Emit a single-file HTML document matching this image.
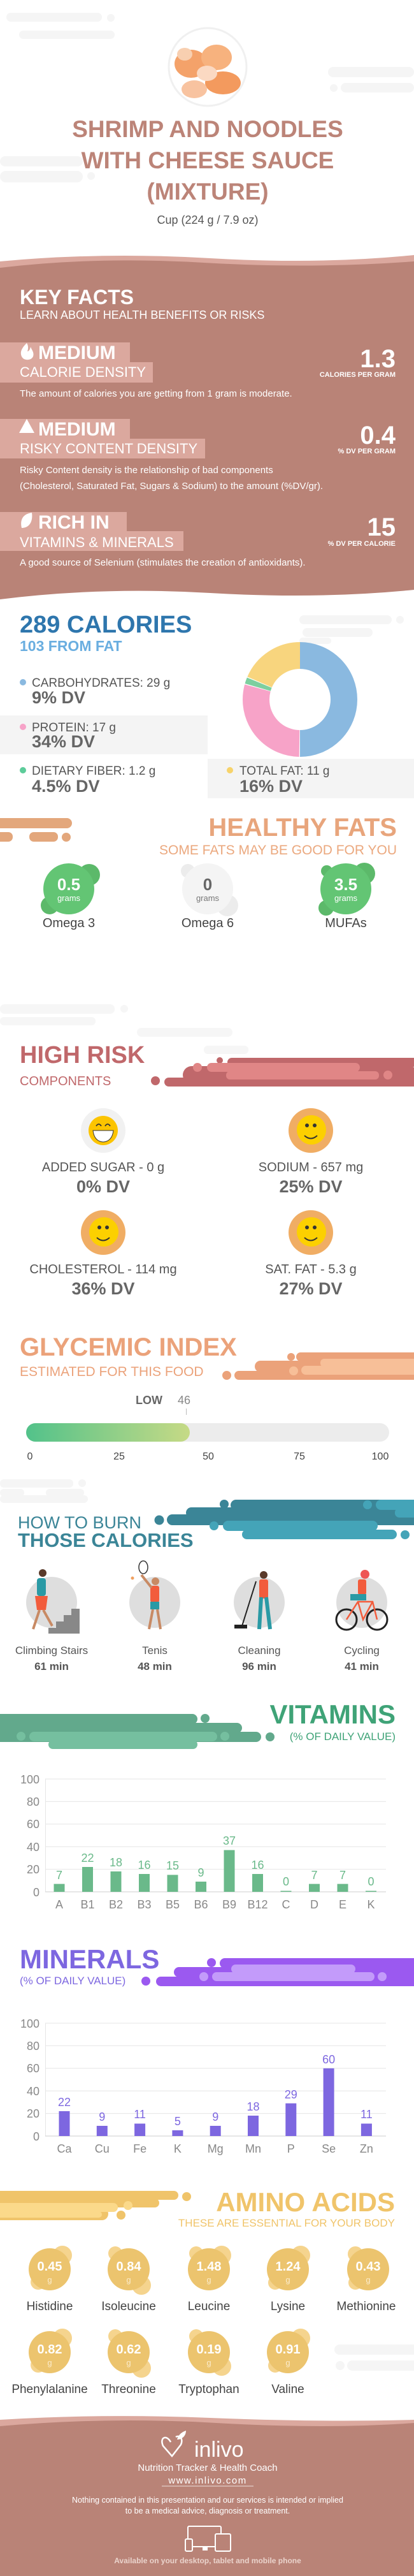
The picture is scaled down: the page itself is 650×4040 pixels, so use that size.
<!DOCTYPE html>
<html><head><meta charset="utf-8"><style>
html,body{margin:0;padding:0;background:#fff}
svg{display:block}
text{font-family:"Liberation Sans",Arial,sans-serif}
.b{font-weight:bold}
</style></head><body>
<svg width="650" height="4040" viewBox="0 0 650 4040" xmlns="http://www.w3.org/2000/svg">
<rect width="650" height="4040" fill="#fff"/>
<!-- header decorations -->
<g fill="#f5f5f5">
<rect x="10" y="20" width="150" height="14" rx="7"/><circle cx="174" cy="28" r="6"/>
<rect x="30" y="48" width="150" height="13" rx="6.5"/>
<rect x="515" y="105" width="135" height="16" rx="8"/><rect x="535" y="130" width="115" height="15" rx="7.5"/><circle cx="524" cy="138" r="6"/>
<rect x="0" y="245" width="130" height="16" rx="8"/><rect x="0" y="268" width="130" height="18" rx="9"/><circle cx="143" cy="276" r="6"/>
</g>
<!-- shrimp -->
<circle cx="326" cy="105" r="61" fill="#fff" stroke="#f0f0f0" stroke-width="3"/>
<g>
<ellipse cx="300" cy="100" rx="26" ry="22" fill="#f4a26a"/>
<ellipse cx="340" cy="90" rx="24" ry="20" fill="#f7b27e"/>
<ellipse cx="350" cy="130" rx="28" ry="18" fill="#f39a5e"/>
<ellipse cx="305" cy="140" rx="20" ry="14" fill="#f8c3a0"/>
<ellipse cx="325" cy="115" rx="16" ry="12" fill="#fbd9c2"/>
<ellipse cx="290" cy="85" rx="12" ry="10" fill="#f8cfb0"/>
</g>
<g fill="#bc8478" class="b" text-anchor="middle" font-size="37">
<text x="326" y="215">SHRIMP AND NOODLES</text>
<text x="326" y="264">WITH CHEESE SAUCE</text>
<text x="326" y="313">(MIXTURE)</text>
</g>
<text x="326" y="351" text-anchor="middle" font-size="18" fill="#555">Cup (224 g / 7.9 oz)</text>
<!-- key facts -->
<path d="M0 410 Q160 395 330 405 T650 400 V940 H0Z" fill="#dba89e"/>
<path d="M0 420 Q150 402 320 412 T650 410 V940 H0Z" fill="#b98377"/>
<path d="M0 940 Q160 920 330 930 T650 925 V945 H0Z" fill="#fff"/>
<text x="31" y="477" class="b" font-size="32" fill="#fff">KEY FACTS</text>
<text x="31" y="500" font-size="18" fill="#fff">LEARN ABOUT HEALTH BENEFITS OR RISKS</text>
<g fill="#dba89e">
<rect x="0" y="537" width="204" height="32"/><rect x="0" y="568" width="240" height="32"/>
<rect x="0" y="657" width="204" height="32"/><rect x="0" y="688" width="322" height="31"/>
<rect x="0" y="803" width="199" height="31"/><rect x="0" y="833" width="288" height="31"/>
</g>
<g fill="#fff">
<path d="M42 538 C34 546 31 552 34 559 C37 566 49 566 52 559 C54 553 50 549 48 544 C47 549 45 551 43 551 C45 546 44 541 42 538Z"/>
<path d="M42 657 L54 679 L30 679Z"/>
<path d="M50 804 C36 806 31 815 34 828 C46 828 52 818 50 804Z"/>
</g>
<g fill="#fff" font-size="30" class="b">
<text x="60" y="563">MEDIUM</text><text x="60" y="683">MEDIUM</text><text x="60" y="829">RICH  IN</text>
</g>
<g fill="#fff" font-size="22">
<text x="31" y="591">CALORIE DENSITY</text><text x="31" y="711">RISKY CONTENT DENSITY</text><text x="31" y="858">VITAMINS &amp; MINERALS</text>
</g>
<g fill="#fff" class="b" text-anchor="end">
<text x="621" y="576" font-size="40">1.3</text><text x="621" y="591" font-size="11">CALORIES PER GRAM</text>
<text x="621" y="696" font-size="40">0.4</text><text x="621" y="711" font-size="11">% DV PER GRAM</text>
<text x="621" y="840" font-size="40">15</text><text x="621" y="856" font-size="11">% DV PER CALORIE</text>
</g>
<g fill="#fff" font-size="15">
<text x="31" y="622">The amount of calories you are getting from 1 gram is moderate.</text>
<text x="31" y="742">Risky Content density is the relationship of bad components</text>
<text x="31" y="767">(Cholesterol, Saturated Fat, Sugars &amp; Sodium) to the amount (%DV/gr).</text>
<text x="31" y="887">A good source of Selenium (stimulates the creation of antioxidants).</text>
</g>
<!-- calories -->
<g fill="#f5f5f5"><rect x="470" y="965" width="145" height="14" rx="7"/><rect x="475" y="985" width="110" height="14" rx="7"/><circle cx="628" cy="972" r="6"/><rect x="470" y="1000" width="50" height="10" rx="5"/></g>
<text x="31" y="992" class="b" font-size="38" fill="#2e76ad">289 CALORIES</text>
<text x="31" y="1021" class="b" font-size="23" fill="#6aaee0">103 FROM FAT</text>
<rect x="0" y="1122" width="326" height="61" fill="#f4f4f4"/>
<rect x="326" y="1190" width="324" height="62" fill="#f4f4f4"/>
<circle cx="36" cy="1102" r="0" fill="none"/>
<circle cx="36" cy="1070" r="5" fill="#8ab9e0"/><circle cx="36" cy="1140" r="5" fill="#f7a3c8"/><circle cx="36" cy="1208" r="5" fill="#5dcc9a"/><circle cx="361" cy="1208" r="5" fill="#f7d36a"/>
<g font-size="19" fill="#555">
<text x="50" y="1077">CARBOHYDRATES: 29 g</text><text x="50" y="1147">PROTEIN: 17 g</text><text x="50" y="1215">DIETARY FIBER: 1.2 g</text><text x="376" y="1215">TOTAL FAT: 11 g</text>
</g>
<g font-size="27" class="b" fill="#666">
<text x="50" y="1103">9% DV</text><text x="50" y="1172">34% DV</text><text x="50" y="1242">4.5% DV</text><text x="376" y="1242">16% DV</text>
</g>
<g transform="translate(471,1097) rotate(-90)" fill="none" stroke-width="42">
<circle r="69" stroke="#8ab9e0" stroke-dasharray="216.7 433.5"/>
<circle r="69" stroke="#f7a3c8" stroke-dasharray="125.7 433.5" stroke-dashoffset="-217.7"/>
<circle r="69" stroke="#7dcf9f" stroke-dasharray="7.7 433.5" stroke-dashoffset="-344.4"/>
<circle r="69" stroke="#f8d57e" stroke-dasharray="80.4 433.5" stroke-dashoffset="-353.1"/>
</g>
<!-- healthy fats -->
<g fill="#e3a77c"><rect x="-10" y="1283" width="123" height="16" rx="8"/><rect x="-10" y="1305" width="30" height="15" rx="7"/><rect x="46" y="1305" width="45" height="15" rx="7"/><circle cx="104" cy="1313" r="7"/></g>
<text x="623" y="1311" text-anchor="end" class="b" font-size="40" fill="#e8a57c">HEALTHY FATS</text>
<text x="623" y="1340" text-anchor="end" font-size="21" fill="#eba87e">SOME FATS MAY BE GOOD FOR YOU</text>
<g>
<circle cx="140" cy="1372" r="17" fill="#5cb96a"/><circle cx="78" cy="1420" r="14" fill="#5cb96a"/><circle cx="108" cy="1394" r="40" fill="#63c574"/>
<circle cx="295" cy="1366" r="11" fill="#ececec"/><circle cx="357" cy="1420" r="17" fill="#ececec"/><circle cx="326" cy="1394" r="40" fill="#f4f4f4"/>
<circle cx="572" cy="1370" r="17" fill="#5cb96a"/><circle cx="512" cy="1424" r="12" fill="#5cb96a"/><circle cx="513" cy="1366" r="9" fill="#5cb96a"/><circle cx="543" cy="1394" r="40" fill="#63c574"/>
</g>
<g text-anchor="middle">
<text x="108" y="1396" class="b" font-size="26" fill="#fff">0.5</text><text x="108" y="1413" font-size="13" fill="#fff">grams</text>
<text x="326" y="1396" class="b" font-size="26" fill="#666">0</text><text x="326" y="1413" font-size="13" fill="#777">grams</text>
<text x="543" y="1396" class="b" font-size="26" fill="#fff">3.5</text><text x="543" y="1413" font-size="13" fill="#fff">grams</text>
<g font-size="20" fill="#444"><text x="108" y="1454">Omega 3</text><text x="326" y="1454">Omega 6</text><text x="543" y="1454">MUFAs</text></g>
</g>
<!-- high risk -->
<g fill="#f6f6f6"><rect x="0" y="1575" width="180" height="15" rx="7"/><circle cx="195" cy="1582" r="6"/><rect x="0" y="1595" width="150" height="13" rx="6"/><rect x="215" y="1612" width="150" height="14" rx="7"/><rect x="320" y="1640" width="70" height="13" rx="6"/></g>
<text x="31" y="1667" class="b" font-size="38" fill="#c0686b">HIGH RISK</text>
<text x="31" y="1702" font-size="20" fill="#c0686b">COMPONENTS</text>
<g fill="#c0686b"><rect x="357" y="1659" width="300" height="14" rx="7"/><rect x="287" y="1672" width="370" height="28" rx="14"/><rect x="258" y="1690" width="400" height="14" rx="7"/><circle cx="244" cy="1695" r="7"/><circle cx="345" cy="1663" r="5"/></g>
<g fill="#e08686"><rect x="325" y="1667" width="240" height="14" rx="7"/><rect x="355" y="1680" width="240" height="13" rx="6"/><circle cx="310" cy="1674" r="7"/><circle cx="609" cy="1686" r="7"/></g>
<defs>
<g id="smile"><ellipse cx="0" cy="0" rx="35" ry="35" fill="#f0ad64"/><circle cx="1" cy="-1" r="23" fill="#fcd000"/><circle cx="-6" cy="-8" r="3" fill="#333"/><circle cx="6" cy="-8" r="3" fill="#333"/><path d="M-10 8 Q0 17 10 8" fill="none" stroke="#333" stroke-width="2"/></g>
</defs>
<ellipse cx="162" cy="1773" rx="35" ry="35" fill="#f1f1f1"/><circle cx="162" cy="1773" r="23" fill="#fcc400"/>
<path d="M151 1766 q4 -6 8 0 M165 1766 q4 -6 8 0" fill="none" stroke="#333" stroke-width="1.8"/>
<path d="M146 1773 H178 Q176 1790 162 1791 Q148 1790 146 1773Z" fill="#fff" stroke="#333" stroke-width="1"/>
<use href="#smile" x="488" y="1773"/><use href="#smile" x="162" y="1933"/><use href="#smile" x="488" y="1933"/>
<g text-anchor="middle">
<g font-size="20" fill="#555"><text x="162" y="1837">ADDED SUGAR - 0 g</text><text x="488" y="1837">SODIUM - 657 mg</text><text x="162" y="1997">CHOLESTEROL - 114 mg</text><text x="488" y="1997">SAT. FAT - 5.3 g</text></g>
<g font-size="27" class="b" fill="#666"><text x="162" y="1870">0% DV</text><text x="488" y="1870">25% DV</text><text x="162" y="2030">36% DV</text><text x="488" y="2030">27% DV</text></g>
</g>
<!-- glycemic -->
<text x="31" y="2126" class="b" font-size="40" fill="#eba27a">GLYCEMIC INDEX</text>
<text x="31" y="2158" font-size="21" fill="#eba27a">ESTIMATED FOR THIS FOOD</text>
<g fill="#eba27a"><rect x="465" y="2121" width="200" height="14" rx="7"/><rect x="400" y="2134" width="260" height="18" rx="9"/><rect x="368" y="2150" width="290" height="14" rx="7"/><circle cx="356" cy="2157" r="7"/><circle cx="457" cy="2128" r="6"/><circle cx="459" cy="2140" r="5"/></g>
<g fill="#f7bf98"><rect x="503" y="2131" width="160" height="13" rx="6"/><rect x="473" y="2142" width="190" height="14" rx="7"/><circle cx="461" cy="2150" r="7"/></g>
<text x="213" y="2202" class="b" font-size="18" fill="#666">LOW</text><text x="279" y="2202" font-size="18" fill="#888">46</text>
<rect x="292" y="2209" width="1" height="10" fill="#bbb"/>
<defs><linearGradient id="gg" x1="0" x2="1"><stop offset="0" stop-color="#52c28a"/><stop offset="1" stop-color="#c6da86"/></linearGradient></defs>
<rect x="41" y="2232" width="570" height="29" rx="14.5" fill="#ececec"/>
<rect x="41" y="2232" width="257" height="29" rx="14.5" fill="url(#gg)"/>
<g font-size="16" fill="#444" text-anchor="middle"><text x="47" y="2289">0</text><text x="187" y="2289">25</text><text x="327" y="2289">50</text><text x="470" y="2289">75</text><text x="597" y="2289">100</text></g>
<!-- burn -->
<g fill="#f5f5f5"><rect x="0" y="2320" width="115" height="13" rx="6"/><circle cx="129" cy="2326" r="6"/><rect x="0" y="2335" width="38" height="12" rx="6"/><rect x="72" y="2335" width="60" height="12" rx="6"/><rect x="0" y="2345" width="138" height="12" rx="6"/></g>
<g fill="#3b8597"><rect x="362" y="2352" width="300" height="17" rx="8.5"/><rect x="292" y="2364" width="370" height="17" rx="8.5"/><rect x="262" y="2375" width="400" height="17" rx="8.5"/><circle cx="250" cy="2384" r="7.5"/><circle cx="352" cy="2359" r="7"/></g>
<g fill="#44a4b8"><rect x="350" y="2385" width="243" height="16" rx="8"/><rect x="380" y="2399" width="243" height="15" rx="7.5"/><circle cx="336" cy="2393" r="7"/><circle cx="636" cy="2407" r="7"/><rect x="590" y="2352" width="70" height="16" rx="8"/><circle cx="577" cy="2360" r="7"/><rect x="620" y="2365" width="40" height="15" rx="7"/></g>
<text x="28" y="2397" font-size="27" fill="#3b8597">HOW TO BURN</text>
<text x="28" y="2426" class="b" font-size="31" fill="#3b8597">THOSE CALORIES</text>
<g fill="#dedede"><circle cx="81" cy="2513" r="40"/><circle cx="243" cy="2513" r="40"/><circle cx="407" cy="2513" r="40"/><circle cx="568" cy="2513" r="40"/></g>
<!-- simple figures -->
<g>
<path d="M44 2562 H125 V2523 H112 V2533 H100 V2543 H88 V2553 H76 V2562Z" fill="#888"/>
<circle cx="67" cy="2467" r="6" fill="#5a3a2a"/><rect x="58" y="2475" width="14" height="28" rx="4" fill="#2a9aa5"/><path d="M55 2503 L75 2503 L72 2525 L58 2525Z" fill="#f25c3c"/><path d="M62 2525 L52 2555 M68 2525 L82 2550" stroke="#c88a64" stroke-width="4"/>
<circle cx="244" cy="2480" r="6" fill="#c88a64"/><rect x="236" y="2487" width="14" height="26" rx="3" fill="#f25c3c"/><rect x="236" y="2512" width="14" height="12" fill="#2a9aa5"/><path d="M240 2524 L234 2555 M247 2524 L252 2555 M238 2490 L222 2470" stroke="#c88a64" stroke-width="4"/><ellipse cx="225" cy="2458" rx="7" ry="10" fill="none" stroke="#333" stroke-width="1.5"/><circle cx="208" cy="2475" r="2.5" fill="#f0a060"/>
<circle cx="414" cy="2470" r="6" fill="#5a3a2a"/><rect x="407" y="2477" width="14" height="30" rx="3" fill="#f25c3c"/><path d="M410 2505 L407 2555 M418 2505 L424 2555" stroke="#2a9aa5" stroke-width="6"/><path d="M402 2480 L380 2550" stroke="#222" stroke-width="2"/><rect x="368" y="2548" width="20" height="6" fill="#222"/>
<circle cx="573" cy="2469" r="7" fill="#e55"/><rect x="562" y="2477" width="13" height="24" rx="3" fill="#f25c3c"/><rect x="550" y="2500" width="25" height="10" fill="#2a9aa5"/>
<circle cx="544" cy="2540" r="16" fill="none" stroke="#222" stroke-width="3"/><circle cx="592" cy="2540" r="16" fill="none" stroke="#222" stroke-width="3"/><path d="M544 2540 L562 2512 L585 2512 L592 2540 M562 2512 L570 2540 L585 2512" fill="none" stroke="#f25c3c" stroke-width="2.5"/>
</g>
<g text-anchor="middle" font-size="17" fill="#555">
<text x="81" y="2594">Climbing Stairs</text><text x="243" y="2594">Tenis</text><text x="407" y="2594">Cleaning</text><text x="568" y="2594">Cycling</text>
<g class="b"><text x="81" y="2619">61 min</text><text x="243" y="2619">48 min</text><text x="407" y="2619">96 min</text><text x="568" y="2619">41 min</text></g>
</g>
<!-- vitamins -->
<text x="621" y="2703" text-anchor="end" class="b" font-size="42" fill="#3fa377">VITAMINS</text>
<text x="621" y="2729" text-anchor="end" font-size="17" fill="#3fa377">(% OF DAILY VALUE)</text>
<g fill="#62a98c"><rect x="-10" y="2688" width="320" height="16" rx="8"/><rect x="-10" y="2702" width="390" height="16" rx="8"/><rect x="-10" y="2716" width="420" height="16" rx="8"/><circle cx="322" cy="2695" r="7"/><circle cx="424" cy="2724" r="7"/></g>
<g fill="#75bf9f"><rect x="46" y="2716" width="295" height="15" rx="7.5"/><rect x="76" y="2729" width="234" height="14" rx="7"/><circle cx="33" cy="2723" r="7"/><circle cx="353" cy="2723" r="7"/></g>
<g stroke="#e6e6e6" stroke-width="1"><line x1="71" y1="2790" x2="606" y2="2790"/><line x1="71" y1="2825.4" x2="606" y2="2825.4"/><line x1="71" y1="2860.8" x2="606" y2="2860.8"/><line x1="71" y1="2896.2" x2="606" y2="2896.2"/><line x1="71" y1="2931.6" x2="606" y2="2931.6"/><line x1="71.5" y1="2790" x2="71.5" y2="2967"/></g>
<line x1="71" y1="2967" x2="606" y2="2967" stroke="#ccc"/>
<g font-size="18" fill="#888" text-anchor="end"><text x="62" y="2797">100</text><text x="62" y="2832">80</text><text x="62" y="2867">60</text><text x="62" y="2903">40</text><text x="62" y="2938">20</text><text x="62" y="2974">0</text></g>
<g fill="#6ab98a">
<rect x="84.5" y="2954.6" width="17" height="12.4"/><rect x="129" y="2928" width="17" height="39"/><rect x="173.5" y="2935" width="17" height="32"/><rect x="218" y="2939" width="17" height="28"/><rect x="262.5" y="2940.4" width="17" height="26.6"/><rect x="307" y="2951" width="17" height="16"/><rect x="351.5" y="2901.5" width="17" height="65.5"/><rect x="396" y="2939" width="17" height="28"/><rect x="440.5" y="2965.5" width="17" height="1.5"/><rect x="485" y="2954.6" width="17" height="12.4"/><rect x="529.5" y="2954.6" width="17" height="12.4"/><rect x="574" y="2965.5" width="17" height="1.5"/>
</g>
<g font-size="18" fill="#6ab98a" text-anchor="middle">
<text x="93" y="2947">7</text><text x="137.5" y="2920">22</text><text x="182" y="2927">18</text><text x="226.5" y="2931">16</text><text x="271" y="2932">15</text><text x="315.5" y="2943">9</text><text x="360" y="2893">37</text><text x="404.5" y="2931">16</text><text x="449" y="2957">0</text><text x="493.5" y="2947">7</text><text x="538" y="2947">7</text><text x="582.5" y="2957">0</text>
</g>
<g font-size="18" fill="#888" text-anchor="middle">
<text x="93" y="2993">A</text><text x="137.5" y="2993">B1</text><text x="182" y="2993">B2</text><text x="226.5" y="2993">B3</text><text x="271" y="2993">B5</text><text x="315.5" y="2993">B6</text><text x="360" y="2993">B9</text><text x="404.5" y="2993">B12</text><text x="449" y="2993">C</text><text x="493.5" y="2993">D</text><text x="538" y="2993">E</text><text x="582.5" y="2993">K</text>
</g>
<!-- minerals -->
<text x="31" y="3087" class="b" font-size="42" fill="#7d67e0">MINERALS</text>
<text x="31" y="3112" font-size="17" fill="#7d67e0">(% OF DAILY VALUE)</text>
<g fill="#9b59f0"><rect x="345" y="3071" width="320" height="16" rx="8"/><rect x="273" y="3085" width="390" height="16" rx="8"/><rect x="245" y="3100" width="420" height="15" rx="7.5"/><circle cx="332" cy="3078" r="7"/><circle cx="229" cy="3107" r="7"/></g>
<g fill="#c39bfa"><rect x="363" y="3081" width="195" height="14" rx="7"/><rect x="333" y="3093" width="255" height="14" rx="7"/><circle cx="320" cy="3100" r="7"/><circle cx="600" cy="3100" r="7"/></g>
<g stroke="#e6e6e6" stroke-width="1"><line x1="71" y1="3173" x2="606" y2="3173"/><line x1="71" y1="3208.4" x2="606" y2="3208.4"/><line x1="71" y1="3243.8" x2="606" y2="3243.8"/><line x1="71" y1="3279.2" x2="606" y2="3279.2"/><line x1="71" y1="3314.6" x2="606" y2="3314.6"/><line x1="71.5" y1="3173" x2="71.5" y2="3350"/></g>
<line x1="71" y1="3350" x2="606" y2="3350" stroke="#ccc"/>
<g font-size="18" fill="#888" text-anchor="end"><text x="62" y="3180">100</text><text x="62" y="3215">80</text><text x="62" y="3250">60</text><text x="62" y="3286">40</text><text x="62" y="3321">20</text><text x="62" y="3357">0</text></g>
<g fill="#7d67e0">
<rect x="92.5" y="3311" width="17" height="39"/><rect x="151.8" y="3334" width="17" height="16"/><rect x="211.1" y="3330.5" width="17" height="19.5"/><rect x="270.4" y="3341" width="17" height="9"/><rect x="329.7" y="3334" width="17" height="16"/><rect x="389" y="3318" width="17" height="32"/><rect x="448.3" y="3298.7" width="17" height="51.3"/><rect x="507.6" y="3243.8" width="17" height="106.2"/><rect x="566.9" y="3330.5" width="17" height="19.5"/>
</g>
<g font-size="18" fill="#7d67e0" text-anchor="middle">
<text x="101" y="3303">22</text><text x="160.3" y="3326">9</text><text x="219.6" y="3322">11</text><text x="278.9" y="3333">5</text><text x="338.2" y="3326">9</text><text x="397.5" y="3310">18</text><text x="456.8" y="3291">29</text><text x="516.1" y="3236">60</text><text x="575.4" y="3322">11</text>
</g>
<g font-size="18" fill="#888" text-anchor="middle">
<text x="101" y="3376">Ca</text><text x="160.3" y="3376">Cu</text><text x="219.6" y="3376">Fe</text><text x="278.9" y="3376">K</text><text x="338.2" y="3376">Mg</text><text x="397.5" y="3376">Mn</text><text x="456.8" y="3376">P</text><text x="516.1" y="3376">Se</text><text x="575.4" y="3376">Zn</text>
</g>
<!-- amino -->
<g fill="#f0c46a"><rect x="-10" y="3436" width="290" height="14" rx="7"/><rect x="-10" y="3448" width="260" height="14" rx="7"/><rect x="-10" y="3462" width="180" height="20" rx="10"/><circle cx="293" cy="3445" r="7"/><circle cx="190" cy="3474" r="7"/></g>
<g fill="#fbd98a"><rect x="-10" y="3455" width="195" height="14" rx="7"/><circle cx="201" cy="3459" r="7"/><rect x="-10" y="3468" width="170" height="10" rx="5"/></g>
<text x="620" y="3468" text-anchor="end" class="b" font-size="42" fill="#f0c46a">AMINO ACIDS</text>
<text x="620" y="3492" text-anchor="end" font-size="17" fill="#f0c46a">THESE ARE ESSENTIAL FOR YOUR BODY</text>
<g fill="#f5d48e">
<circle cx="98" cy="3537" r="15"/><circle cx="60" cy="3579" r="12"/><circle cx="222" cy="3584" r="15"/><circle cx="181" cy="3534" r="11"/><circle cx="348" cy="3537" r="15"/><circle cx="308" cy="3534" r="11"/><circle cx="472" cy="3537" r="15"/><circle cx="432" cy="3580" r="11"/><circle cx="558" cy="3535" r="12"/><circle cx="558" cy="3580" r="11"/>
<circle cx="98" cy="3667" r="15"/><circle cx="60" cy="3709" r="12"/><circle cx="222" cy="3714" r="15"/><circle cx="181" cy="3664" r="11"/><circle cx="348" cy="3711" r="15"/><circle cx="308" cy="3664" r="11"/><circle cx="472" cy="3667" r="15"/><circle cx="432" cy="3710" r="11"/>
</g>
<g fill="#ecc46e">
<circle cx="78" cy="3559" r="33"/><circle cx="202" cy="3559" r="33"/><circle cx="328" cy="3559" r="33"/><circle cx="452" cy="3559" r="33"/><circle cx="578" cy="3559" r="33"/>
<circle cx="78" cy="3689" r="33"/><circle cx="202" cy="3689" r="33"/><circle cx="328" cy="3689" r="33"/><circle cx="452" cy="3689" r="33"/>
</g>
<g fill="#f5f5f5"><rect x="525" y="3677" width="140" height="16" rx="8"/><rect x="545" y="3702" width="120" height="16" rx="8"/><circle cx="534" cy="3710" r="7"/></g>
<g text-anchor="middle" fill="#fff">
<g class="b" font-size="20"><text x="78" y="3561">0.45</text><text x="202" y="3561">0.84</text><text x="328" y="3561">1.48</text><text x="452" y="3561">1.24</text><text x="578" y="3561">0.43</text>
<text x="78" y="3691">0.82</text><text x="202" y="3691">0.62</text><text x="328" y="3691">0.19</text><text x="452" y="3691">0.91</text></g>
<g font-size="13" fill="#fbeccc"><text x="78" y="3580">g</text><text x="202" y="3580">g</text><text x="328" y="3580">g</text><text x="452" y="3580">g</text><text x="578" y="3580">g</text>
<text x="78" y="3710">g</text><text x="202" y="3710">g</text><text x="328" y="3710">g</text><text x="452" y="3710">g</text></g>
</g>
<g text-anchor="middle" font-size="19" fill="#444">
<text x="78" y="3623">Histidine</text><text x="202" y="3623">Isoleucine</text><text x="328" y="3623">Leucine</text><text x="452" y="3623">Lysine</text><text x="575" y="3623">Methionine</text>
<text x="78" y="3753">Phenylalanine</text><text x="202" y="3753">Threonine</text><text x="328" y="3753">Tryptophan</text><text x="452" y="3753">Valine</text>
</g>
<!-- footer -->
<path d="M0 3795 Q160 3785 330 3792 T650 3795 V4040 H0Z" fill="#dba89e"/>
<path d="M0 3805 Q170 3790 340 3800 T650 3800 V4040 H0Z" fill="#b98377"/>
<path d="M268 3830 C262 3818 250 3822 256 3836 L270 3852 L284 3834 C288 3825 282 3818 276 3822" fill="none" stroke="#fff" stroke-width="2.5"/>
<path d="M278 3826 C280 3818 286 3814 292 3812 C292 3820 286 3826 278 3826Z" fill="#fff"/>
<text x="305" y="3853" font-size="34" fill="#fff">inlivo</text>
<g text-anchor="middle" fill="#fff">
<text x="326" y="3875" font-size="15">Nutrition Tracker &amp; Health Coach</text>
<text x="326" y="3895" font-size="15" letter-spacing="1.5">www.inlivo.com</text>
<line x1="254" y1="3899" x2="398" y2="3899" stroke="#fff" stroke-width="0.8"/>
<text x="326" y="3925" font-size="12.5">Nothing contained in this presentation and our services is intended or implied</text>
<text x="326" y="3942" font-size="12.5">to be a medical advice, diagnosis or treatment.</text>
</g>
<g fill="none" stroke="#fff" stroke-width="2">
<rect x="295" y="3962" width="52" height="32" rx="2"/><rect x="291" y="3982" width="11" height="19" rx="2" fill="#b98377"/><rect x="338" y="3974" width="24" height="27" rx="2" fill="#b98377"/>
</g>
<rect x="318" y="3994" width="8" height="6" fill="#fff"/>
<text x="326" y="4020" text-anchor="middle" class="b" font-size="12" fill="#ead3cc">Available on your desktop, tablet and mobile phone</text>
</svg>
</body></html>
